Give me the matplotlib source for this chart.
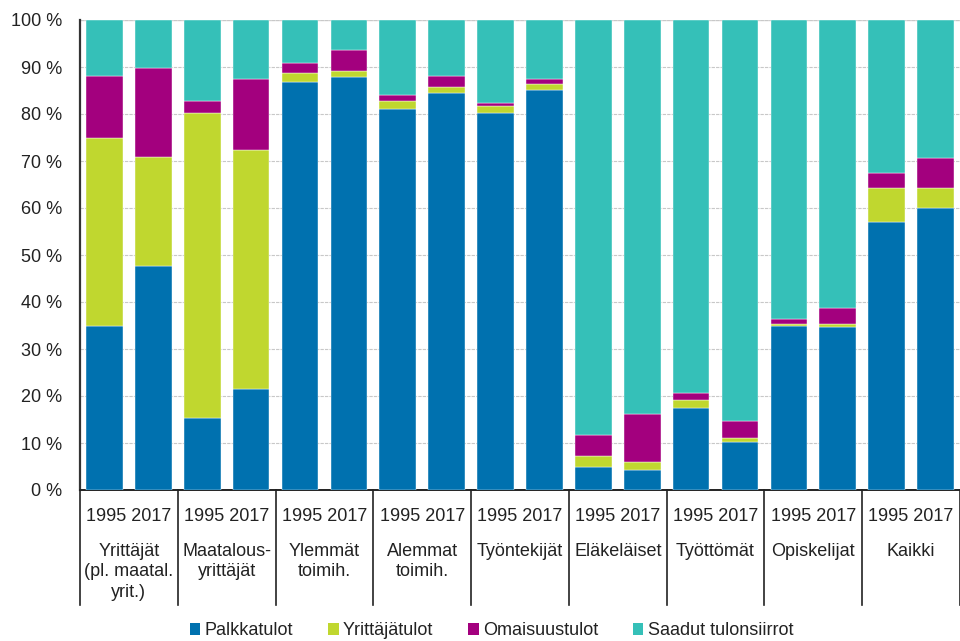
import numpy as np
import matplotlib
matplotlib.use("Agg")
import matplotlib.pyplot as plt
from matplotlib.patches import Patch
import matplotlib.transforms as mtransforms

plt.rcParams['font.family'] = ['Liberation Sans', 'DejaVu Sans']

# Data: shares (%) of income, 1995 and 2017 for each group
groups = ["Yrittäjät\n(pl. maatal.\nyrit.)", "Maatalous-\nyrittäjät", "Ylemmät\ntoimih.",
          "Alemmat\ntoimih.", "Työntekijät", "Eläkeläiset", "Työttömät",
          "Opiskelijat", "Kaikki"]
years = ["1995", "2017"]
series = ["Palkkatulot", "Yrittäjätulot", "Omaisuustulot", "Saadut tulonsiirrot"]

palkka = [35.0, 47.6, 15.3, 21.4, 86.8, 87.8, 81.0, 84.4, 80.3, 85.1,
          4.8, 4.2, 17.4, 10.3, 34.9, 34.7, 57.0, 60.1]
yrittaja = [39.9, 23.2, 64.9, 51.0, 2.0, 1.4, 1.7, 1.3, 1.4, 1.3,
            2.4, 1.7, 1.7, 0.7, 0.4, 0.6, 7.2, 4.1]
omaisuus = [13.2, 19.0, 2.5, 15.1, 2.1, 4.4, 1.4, 2.4, 0.7, 1.1,
            4.5, 10.3, 1.5, 3.7, 1.0, 3.4, 3.2, 6.5]
siirrot = [100 - a - b - c for a, b, c in zip(palkka, yrittaja, omaisuus)]

colors = ["#0071AF", "#C0D72F", "#A3007E", "#35C0B8"]

fig = plt.figure(figsize=(9.6, 6.41), dpi=100)
ax = fig.add_axes([80 / 960, 151 / 641, 880 / 960, 470 / 641])

x = np.arange(len(palkka))
bottom = np.zeros(len(palkka))
for vals, col in zip([palkka, yrittaja, omaisuus, siirrot], colors):
    ax.bar(x, vals, bottom=bottom, width=0.75, color=col, edgecolor="white",
           linewidth=0.3, zorder=3)
    bottom += np.array(vals)

ax.set_xlim(-0.5, len(palkka) - 0.5)
ax.set_ylim(0, 100)
ax.set_yticks(range(0, 101, 10))
ax.set_yticklabels([f"{v} %" for v in range(0, 101, 10)], fontsize=13, color="#222222")
ax.tick_params(axis="y", length=0, pad=13)
ax.set_xticks([])
ax.yaxis.grid(True, color="#c8c8c8", linestyle=(0, (3, 1)), linewidth=0.8, zorder=0)
for s in ["top", "right"]:
    ax.spines[s].set_visible(False)
ax.spines["left"].set_linewidth(1.6)
ax.spines["left"].set_color("#333333")
ax.spines["bottom"].set_linewidth(1.4)
ax.spines["bottom"].set_color("#222222")
ax.axhline(100, color="#d8d8d8", linewidth=1.0, zorder=1)

# group separators below the axis
trans = mtransforms.blended_transform_factory(ax.transData, ax.transAxes)
for g in range(len(groups) + 1):
    xb = g * 2 - 0.5
    ax.plot([xb, xb], [0, -0.245], transform=trans, color="#222222",
            linewidth=1.2, clip_on=False)

for g, name in enumerate(groups):
    cx = g * 2 + 0.5
    ax.text(cx, -0.057, " ".join(years), transform=trans,
            ha="center", va="center", fontsize=13, color="#222222")
    ax.text(cx, -0.113, name, transform=trans, ha="center", va="top",
            fontsize=13, color="#222222", linespacing=1.25)

handles = [Patch(facecolor=c, edgecolor="none") for c in colors]
fig.legend(handles, series, loc="center", bbox_to_anchor=(0.512, 0.016), ncol=4,
           frameon=False, fontsize=13, handlelength=0.6, handleheight=0.6,
           handletextpad=0.25, columnspacing=1.9, labelcolor="#222222")

fig.savefig("out.png", dpi=100)
